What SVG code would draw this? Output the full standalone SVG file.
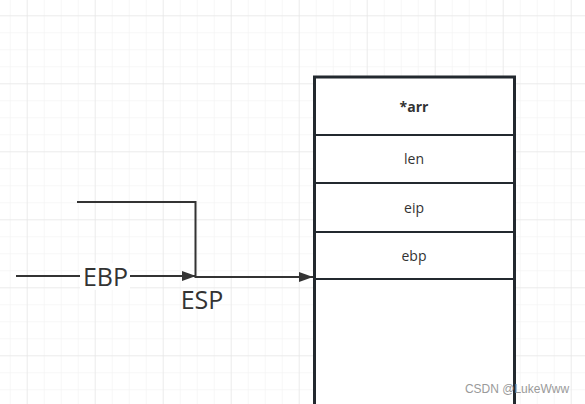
<svg xmlns="http://www.w3.org/2000/svg" width="585" height="404" viewBox="0 0 585 404">
<defs>
<pattern id="minor" x="9.7" y="15.3" width="17" height="17" patternUnits="userSpaceOnUse">
<path d="M0 0V17M0 0H17" fill="none" stroke="#efefef" stroke-width="1"/>
</pattern>
<pattern id="major" x="26.7" y="15.3" width="68" height="68" patternUnits="userSpaceOnUse">
<path d="M0 0V68M0 0H68" fill="none" stroke="#e2e2e2" stroke-width="1"/>
</pattern>
<marker id="arr" viewBox="0 0 10 10" refX="10" refY="5" markerWidth="14" markerHeight="14" markerUnits="userSpaceOnUse" orient="auto">
<path d="M0 1.5L10 5L0 8.5Z" fill="#333"/>
</marker>
</defs>
<style>
.cell{fill:#fff;stroke:#23292f;stroke-width:2}
.t{font-family:"Open Sans","Noto Sans","Liberation Sans",sans-serif;font-size:14px;fill:#333;text-anchor:middle}
.big{font-family:"Open Sans","Noto Sans","Liberation Sans",sans-serif;font-size:25px;fill:#333;text-anchor:middle}
.edge{fill:none;stroke:#333;stroke-width:2}
</style>
<rect width="585" height="404" fill="#fff"/>
<rect width="585" height="404" fill="url(#minor)"/>
<rect width="585" height="404" fill="url(#major)"/>
<g id="stack">
<g id="cell-arr"><rect class="cell" x="314.5" y="77" width="200" height="58"/><text class="t" x="414" y="112" font-weight="bold">*arr</text></g>
<g id="cell-len"><rect class="cell" x="314.5" y="135" width="200" height="48"/><text class="t" x="414" y="164">len</text></g>
<g id="cell-eip"><rect class="cell" x="314.5" y="183" width="200" height="49"/><text class="t" x="414" y="213">eip</text></g>
<g id="cell-ebp"><rect class="cell" x="314.5" y="232" width="200" height="47"/><text class="t" x="414" y="261">ebp</text></g>
<g id="cell-empty"><rect class="cell" x="314.5" y="279" width="200" height="130"/></g>
<rect x="314.5" y="77" width="200" height="340" fill="none" stroke="#23292f" stroke-width="3"/>
</g>
<g id="connectors">
<path class="edge" d="M16 276H196" marker-end="url(#arr)"/>
<path class="edge" d="M77 202H195.5V277H313" marker-end="url(#arr)"/>
</g>
<g id="label-ebp">
<rect x="80" y="263" width="50" height="27" fill="#fff"/>
<text class="big" x="105.5" y="286">EBP</text>
</g>
<g id="label-esp">
<text class="big" x="202" y="309">ESP</text>
</g>
<text x="517" y="393" font-family="Liberation Sans,Arial,sans-serif" font-size="12" fill="#9a9a9a" text-anchor="middle">CSDN @LukeWww</text>
</svg>
